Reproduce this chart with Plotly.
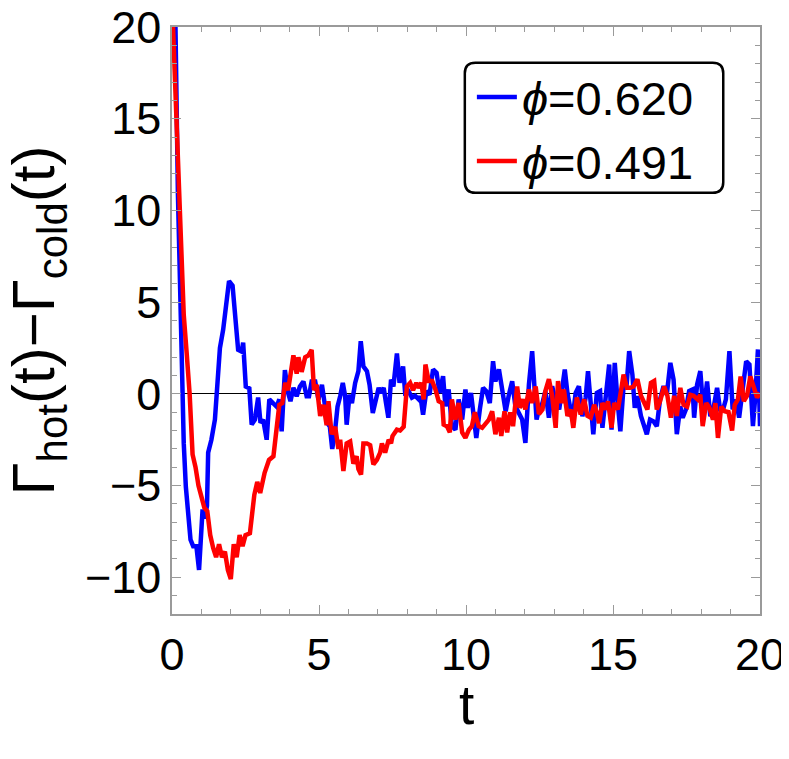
import plotly.graph_objects as go

# ---- data ----
t_blue = [0.0, 0.1, 0.2, 0.3, 0.35, 0.4, 0.47, 0.55, 0.63, 0.72, 0.83, 0.92, 1.04, 1.11, 1.19, 1.23,
          1.34, 1.46, 1.54, 1.63, 1.74, 1.85, 1.94, 2.06, 2.14, 2.25, 2.37, 2.42, 2.51, 2.63, 2.71,
          2.82, 2.93, 3.01, 3.1, 3.22, 3.31, 3.42, 3.56, 3.65, 3.73, 3.84, 3.95, 4.03, 4.13, 4.24,
          4.35, 4.47, 4.58, 4.66, 4.75, 4.87, 4.98, 5.1, 5.21, 5.29, 5.37, 5.45, 5.55, 5.63, 5.72,
          5.81, 5.89, 5.94, 6.04, 6.12, 6.23, 6.34, 6.42, 6.51, 6.63, 6.72, 6.83, 6.95, 7.03, 7.1,
          7.2, 7.28, 7.36, 7.45, 7.53, 7.65, 7.74, 7.86, 7.93, 8.05, 8.16, 8.27, 8.39, 8.45, 8.54,
          8.65, 8.76, 8.88, 9.0, 9.1, 9.22, 9.3, 9.41, 9.52, 9.64, 9.75, 9.87, 9.98, 10.06, 10.17,
          10.26, 10.35, 10.47, 10.58, 10.69, 10.81, 10.92, 11.0, 11.12, 11.23, 11.35, 11.46, 11.57,
          11.68, 11.8, 11.91, 12.02, 12.14, 12.25, 12.33, 12.4, 12.48, 12.6, 12.7, 12.82, 12.93,
          13.05, 13.17, 13.28, 13.36, 13.45, 13.54, 13.62, 13.73, 13.84, 13.96, 14.07, 14.15, 14.24,
          14.33, 14.45, 14.56, 14.64, 14.76, 14.87, 14.95, 15.06, 15.15, 15.25, 15.36, 15.46, 15.55,
          15.66, 15.74, 15.83, 15.95, 16.06, 16.15, 16.26, 16.38, 16.49, 16.6, 16.72, 16.83, 16.95,
          17.06, 17.17, 17.29, 17.37, 17.48, 17.59, 17.71, 17.76, 17.86, 17.97, 18.08, 18.2, 18.31,
          18.42, 18.54, 18.65, 18.76, 18.84, 18.96, 19.07, 19.18, 19.29, 19.41, 19.53, 19.64, 19.76,
          19.84, 19.93, 20.0]
v_blue = [26.0, 22.0, 11.0, 4.5, 0.05, -2.7, -5.05, -6.9, -7.95, -8.3, -8.3, -9.6, -6.3, -6.8, -6.1, -3.2,
          -2.5, -1.4, 0.4, 2.5, 3.5, 4.8, 6.15, 5.9, 4.6, 2.4, 2.3, 2.8, 0.4, 0.3, -1.67,
          -1.4, -0.2, -1.58, -1.4, -2.5, -0.3, -0.5, -0.7, -0.3, -2.04, 1.3, 0.05, -0.4, 0.33, -0.13,
          0.4, 0.68, -0.13, -0.13, 0.68, 0.68, -0.3, 0.5, -0.6, -1.6, -1.8, -3.0, -1.95, -0.7, -0.13,
          0.6, -0.13, -1.68, -0.04, -0.5, 0.6, 1.24, 2.87, 1.5, 1.24, 0.5, -1.04, -0.13, 0.33, 0.05,
          0.33, -0.5, -1.3, 0.78, 0.4, 2.2, 0.6, 1.5, 0.05, 0.14, -0.2, -0.1, -0.3, -0.13, -1.13,
          0.15, -0.04, 1.33, 1.15, 0.05, 0.96, -0.68, 0.24, -1.76, -1.95, -0.3, -1.4, 0.24, -0.76, 0.05,
          -1.22, -2.4, -0.85, 0.33, 0.15, -0.5, 1.78, 0.68, 1.33, 0.15, -0.95, -0.04, 0.68,
          -0.68, -1.13, -1.4, -2.67, 0.51, 2.33, 0.6, -1.4, -0.85, -0.5, 0.15, -1.3, 0.42,
          -0.4, -0.85, 0.42, 1.33, 0.05, -0.6, -1.4, 0.05, 0.42, -1.22, -0.2, 1.24, -0.3,
          -2.2, 0.05, 0.15, -1.85, 0.15, 1.6, -1.95, 1.69, -0.3, -2.04, 0.42, 0.42, 2.33,
          1.05, -0.76, -0.13, -1.2, -1.8, -2.2, -1.4, -1.5, -1.76, -0.3, 0.42, -0.04, 1.69,
          0.78, -2.2, -0.68, -1.3, -0.85, 0.15, 0.24, -1.3, 0.51, 1.24, -1.04, 0.68, -1.22,
          -0.76, 0.33, -0.95, -0.76, -0.3, 2.33, -0.85, -0.3, -1.3, 0.42, 1.78, 1.6, -1.76,
          -0.13, 2.42, -1.76]

t_red = [0.0, 0.1, 0.2, 0.3, 0.4, 0.5, 0.6, 0.7, 0.8, 0.9, 1.0, 1.1, 1.2, 1.3, 1.4, 1.5, 1.6, 1.7,
         1.8, 1.9, 2.0, 2.1, 2.2, 2.3, 2.4, 2.5, 2.65, 2.8, 2.9, 3.0, 3.15, 3.3, 3.45, 3.55, 3.65,
         3.75, 3.85, 3.95, 4.05, 4.13, 4.24, 4.3, 4.41, 4.53, 4.64, 4.75, 4.83, 4.92, 5.04, 5.15,
         5.26, 5.32, 5.43, 5.55, 5.66, 5.72, 5.83, 5.94, 6.06, 6.17, 6.28, 6.34, 6.43, 6.51, 6.63,
         6.74, 6.85, 6.97, 7.08, 7.14, 7.25, 7.37, 7.45, 7.5, 7.65, 7.76, 7.88, 7.93, 7.99, 8.1,
         8.2, 8.31, 8.39, 8.48, 8.56, 8.62, 8.73, 8.85, 8.96, 9.07, 9.19, 9.24, 9.35, 9.45, 9.52,
         9.64, 9.75, 9.87, 9.98, 10.1, 10.2, 10.3, 10.43, 10.55, 10.66, 10.78, 10.89, 11.0, 11.12,
         11.2, 11.31, 11.4, 11.5, 11.6, 11.74, 11.83, 11.94, 12.02, 12.14, 12.25, 12.37, 12.48,
         12.6, 12.7, 12.82, 12.93, 13.05, 13.13, 13.24, 13.33, 13.45, 13.56, 13.65, 13.77, 13.9,
         14.02, 14.13, 14.24, 14.36, 14.45, 14.53, 14.64, 14.76, 14.83, 14.95, 15.04, 15.17, 15.26,
         15.36, 15.47, 15.58, 15.7, 15.83, 15.95, 16.06, 16.17, 16.29, 16.4, 16.49, 16.6, 16.74,
         16.85, 16.97, 17.08, 17.17, 17.29, 17.4, 17.52, 17.63, 17.74, 17.88, 17.97, 18.05, 18.17,
         18.28, 18.4, 18.48, 18.57, 18.68, 18.8, 18.93, 19.05, 19.14, 19.25, 19.34, 19.45, 19.56,
         19.67, 19.78, 19.9, 20.0]
v_red = [21.5, 17.5, 13.0, 8.0, 4.3, 2.2, 0.0, -3.3, -4.0, -5.0, -5.6, -6.2, -6.4, -7.7, -8.4, -8.9, -8.2, -8.9,
         -8.6, -9.6, -10.1, -8.2, -8.9, -7.7, -8.3, -7.7, -7.6, -5.5, -4.8, -5.4, -4.3, -3.6, -3.4, -2.0, -0.6,
         -0.5, 0.6, 0.2, 1.5, 2.1, 1.1, 2.0, 1.2, 2.0, 2.1, 2.4, 0.2, 0.5, -1.2, -0.6,
         -1.7, -0.4, -2.2, -1.8, -3.0, -2.5, -4.2, -2.7, -2.6, -3.8, -3.4, -4.1, -4.4, -2.7, -2.7,
         -2.8, -3.85, -3.6, -3.2, -2.7, -3.2, -2.5, -2.7, -2.3, -1.95, -2.0, -1.8, -0.85, 0.4, 0.6,
         0.2, 0.6, 0.33, 0.6, -0.3, 1.6, 0.7, 0.7, 0.24, -0.4, -0.5, -1.67, -1.76, -2.1, -0.3,
         -1.4, -0.5, -2.1, -2.4, -1.95, -1.76, -1.0, -1.76, -1.85, -1.6, -1.4, -0.95, -2.2, -1.3,
         -2.3, -0.95, -2.1, -1.0, -1.76, 0.4, -0.76, -0.3, -0.85, 0.24, -0.5, 0.4, -1.1,
         -0.85, 0.15, 0.8, -0.1, -1.85, 0.7, -0.5, 0.24, -1.2, -0.85, -1.85, -0.2, -1.13,
         -0.3, -1.2, -1.3, -0.6, -1.0, -1.6, -0.5, -0.85, -0.4, -1.85, -0.5, -0.85, -0.1,
         1.05, 0.33, 0.33, 0.4, 0.8, -0.1, -0.5, -0.85, 0.6, 0.7, -0.85, -0.4, 0.4,
         -0.1, -1.3, -0.1, -1.2, 0.33, -0.6, -0.7, -0.05, -0.1, -0.3, -0.05, -1.76, -0.5,
         -0.76, -1.4, -0.5, -2.4, -0.7, -0.95, -1.0, -2.0, -0.6, -0.3, 0.95, -0.4, -0.1,
         0.95, 0.4, -0.2, 0.05]

names = ["<i>ϕ</i>=0.620", "<i>ϕ</i>=0.491"]
x_ticks = [0, 5, 10, 15, 20]
y_ticks = [-10, -5, 0, 5, 10, 15, 20]

FONT = "Liberation Sans, Arial, sans-serif"
AX_GRAY = "#9a9a9a"

fig = go.Figure()
fig.add_trace(go.Scatter(x=t_blue, y=v_blue, mode="lines", name=names[0],
                         line=dict(color="#0000ff", width=4.5)))
fig.add_trace(go.Scatter(x=t_red, y=v_red, mode="lines", name=names[1],
                         line=dict(color="#ff0000", width=4.5)))

axis_common = dict(
    showline=True, linecolor=AX_GRAY, linewidth=1.5, mirror="ticks",
    ticks="inside", ticklen=9, tickwidth=1, tickcolor=AX_GRAY,
    showgrid=False, tickfont=dict(family=FONT, size=45, color="black"),
    ticklabeloverflow="allow",
    minor=dict(ticks="inside", dtick=1, ticklen=5, tickcolor=AX_GRAY, tickwidth=1),
)

fig.update_xaxes(range=[0, 20], tickvals=x_ticks, zeroline=False, **axis_common)
fig.update_yaxes(range=[-12, 20], tickvals=y_ticks, zeroline=True, zerolinecolor="black",
                 zerolinewidth=1.2, layer="above traces", **axis_common)

# axis titles as annotations (exact placement)
fig.add_annotation(text="Γ<sub>hot</sub>(t)−Γ<sub>cold</sub>(t)", textangle=-90,
                   xref="paper", yref="paper", x=-0.228, y=0.5,
                   xanchor="center", yanchor="middle", showarrow=False,
                   font=dict(family=FONT, size=60, color="black"))
fig.add_annotation(text="t", xref="paper", yref="paper", x=0.5, y=-0.155,
                   xanchor="center", yanchor="middle", showarrow=False,
                   font=dict(family=FONT, size=55, color="black"))

# rounded legend frame
x0, x1, y0, y1 = 0.498, 0.9375, 0.7176, 0.939
rx, ry = 0.018, 0.018
path = (f"M {x0+rx},{y1} L {x1-rx},{y1} Q {x1},{y1} {x1},{y1-ry} L {x1},{y0+ry} "
        f"Q {x1},{y0} {x1-rx},{y0} L {x0+rx},{y0} Q {x0},{y0} {x0},{y0+ry} "
        f"L {x0},{y1-ry} Q {x0},{y1} {x0+rx},{y1} Z")
fig.add_shape(type="path", path=path, xref="paper", yref="paper",
              line=dict(color="black", width=2.5), fillcolor="white", layer="above")

# page has an 8px body margin, so the figure is 8px smaller on each axis
fig.update_layout(
    width=781, height=751,
    margin=dict(l=164, r=29, t=19, b=145, autoexpand=False),
    paper_bgcolor="white", plot_bgcolor="white",
    font=dict(family=FONT, color="black"),
    legend=dict(x=0.51, y=0.944, xanchor="left", yanchor="top",
                bgcolor="rgba(0,0,0,0)", borderwidth=0,
                font=dict(family=FONT, size=47, color="black"),
                itemwidth=40, tracegroupgap=0),
)

fig.write_html("out.html")
